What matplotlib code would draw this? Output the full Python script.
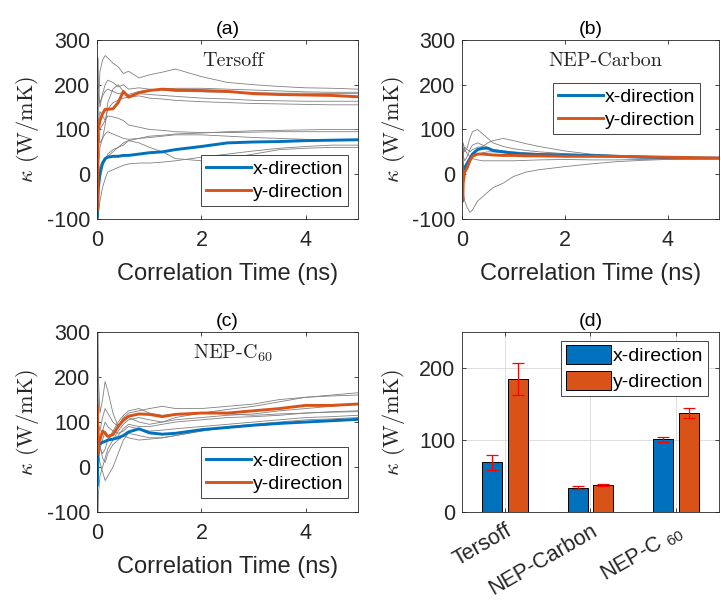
import numpy as np
import matplotlib
matplotlib.use("Agg")
import matplotlib.pyplot as plt

plt.rcParams['font.family'] = ['Liberation Sans', 'DejaVu Sans']
plt.rcParams['mathtext.fontset'] = 'cm'
plt.rcParams['mathtext.rm'] = 'Liberation Sans'

# correlation time grid (ns) shared by all running-average curves
t = [0, 0.01, 0.02, 0.05, 0.1, 0.15, 0.2, 0.3, 0.4, 0.5, 0.6, 0.8, 1.0,
     1.25, 1.5, 2.0, 2.5, 3.0, 3.5, 4.0, 4.5, 5.0]

# (a) Tersoff
tersoff_x = [-95, -60, -30, 0, 25, 35, 38, 40, 40, 42, 42, 45, 48, 50, 55,
             62, 70, 72, 73, 75, 76, 77]
tersoff_y = [-80, 95, 100, 120, 135, 145, 145, 146, 160, 185, 172, 182, 187,
             190, 188, 187, 185, 180, 178, 177, 176, 173]
tersoff_runs = [
    [0, 100, 150, 230, 255, 265, 260, 248, 240, 225, 230, 215, 222, 228, 235, 218, 205, 200, 196, 193, 192, 190],
    [0, 260, 200, 150, 180, 200, 210, 205, 195, 200, 190, 193, 190, 188, 185, 184, 183, 182, 181, 181, 180, 180],
    [0, 100, 90, 70, 80, 110, 160, 190, 200, 185, 175, 180, 178, 176, 174, 170, 168, 165, 164, 163, 163, 163],
    [0, 80, 120, 140, 130, 120, 145, 160, 165, 170, 172, 175, 170, 168, 165, 162, 160, 158, 157, 156, 155, 155],
    [0, 200, 170, 160, 175, 185, 190, 185, 180, 182, 178, 185, 188, 190, 192, 192, 190, 188, 186, 184, 183, 183],
    [0, -50, 50, 100, 110, 120, 130, 128, 125, 120, 110, 105, 100, 98, 95, 93, 93, 94, 95, 95, 95, 95],
    [0, -80, -20, 10, 20, 30, 45, 55, 60, 65, 75, 80, 85, 87, 90, 92, 95, 97, 98, 99, 100, 100],
    [0, -100, -90, -60, -30, -10, 5, 10, 15, 20, 23, 25, 25, 27, 30, 38, 45, 52, 58, 62, 65, 65],
    [0, -60, 0, 20, 25, 30, 40, 50, 60, 70, 75, 70, 60, 50, 35, 30, 35, 45, 55, 58, 60, 60],
    [0, -30, 10, 60, 80, 90, 95, 90, 85, 80, 78, 80, 82, 85, 88, 88, 85, 82, 80, 78, 77, 77],
]

# (b) NEP-Carbon
carbon_x = [20, -10, 5, 15, 25, 35, 45, 55, 58, 58, 53, 50, 47, 45, 44, 43,
            42, 40, 38, 37, 36, 36]
carbon_y = [50, -60, -20, 5, 15, 30, 40, 45, 45, 44, 43, 42, 42, 41, 41, 40,
            40, 40, 39, 38, 37, 36]
carbon_runs = [
    [0, -20, -40, -60, -75, -85, -80, -60, -50, -40, -30, -20, -5, 5, 10, 17, 23, 28, 31, 33, 34, 35],
    [0, 40, 60, 50, 60, 80, 95, 100, 90, 80, 70, 62, 57, 53, 50, 46, 43, 41, 40, 39, 38, 37],
    [0, 30, 50, 60, 55, 50, 55, 60, 62, 70, 75, 80, 75, 68, 62, 52, 45, 42, 40, 39, 38, 37],
    [0, 50, 40, 30, 40, 55, 65, 70, 65, 60, 55, 52, 50, 48, 46, 44, 42, 40, 38, 37, 36, 36],
    [0, 60, 70, 55, 45, 40, 35, 32, 30, 30, 30, 30, 30, 31, 32, 33, 32, 32, 33, 34, 35, 35],
    [0, 30, 20, 10, 20, 30, 40, 45, 48, 50, 50, 48, 46, 45, 44, 42, 40, 39, 38, 37, 36, 36],
]

# (c) NEP-C60
c60_x = [-40, 20, 50, 52, 55, 57, 60, 62, 65, 70, 78, 85, 76, 73, 75, 83,
         88, 93, 97, 100, 103, 106]
c60_y = [135, 30, 50, 60, 80, 75, 68, 72, 90, 105, 113, 118, 117, 112, 117,
         120, 120, 125, 130, 137, 137, 140]
c60_runs = [
    [0, 300, 200, 120, 150, 190, 170, 120, 90, 100, 110, 100, 95, 100, 110, 120, 128, 135, 145, 155, 160, 165],
    [0, -100, -60, -20, 0, 20, 40, 60, 80, 95, 105, 110, 105, 100, 105, 110, 115, 118, 125, 130, 135, 140],
    [0, 150, 100, 80, 110, 130, 120, 100, 90, 110, 120, 125, 130, 135, 130, 130, 135, 140, 150, 155, 158, 160],
    [0, 50, 30, 10, -10, -30, -20, 0, 30, 60, 75, 70, 65, 65, 70, 80, 90, 95, 100, 105, 107, 110],
    [0, 100, 70, 60, 80, 100, 90, 80, 75, 80, 90, 85, 80, 82, 85, 90, 95, 100, 105, 110, 112, 115],
    [0, 0, 20, 40, 60, 80, 70, 60, 70, 85, 95, 90, 90, 95, 100, 105, 110, 112, 115, 120, 123, 125],
    [0, 80, 60, 40, 30, 40, 60, 80, 100, 115, 125, 130, 120, 115, 118, 120, 118, 115, 118, 120, 122, 123],
    [0, 200, 100, 50, 20, 10, 30, 50, 60, 70, 65, 60, 62, 65, 70, 80, 88, 92, 96, 100, 102, 105],
]

# (d) converged values with error bars
potentials = ['Tersoff', 'NEP-Carbon', 'NEP-C $_{60}$']
kappa_x = [69, 34, 101]
kappa_y = [185, 37, 138]
err_x = [10.5, 1.5, 3.5]
err_y = [22, 1.5, 7]

blue = (0, 0.447, 0.741)
orange = (0.85, 0.325, 0.098)
dark = (0.15, 0.15, 0.15)
ylab = r'$\kappa$ (W/mK)'

fig = plt.figure(figsize=(7.21, 6.01), dpi=100)
ax_a = fig.add_axes([0.135, 0.6356, 0.361, 0.298])
ax_b = fig.add_axes([0.641, 0.6356, 0.356, 0.298])
ax_c = fig.add_axes([0.135, 0.148, 0.361, 0.2995])
ax_d = fig.add_axes([0.641, 0.148, 0.356, 0.2995])


def style(ax):
    ax.tick_params(direction='in', length=3, width=0.6, top=True, right=True,
                   labelsize=15.5, colors=dark)
    ax.tick_params(axis='x', pad=8)
    ax.tick_params(axis='y', pad=5)
    for s in ax.spines.values():
        s.set_linewidth(0.6)
        s.set_color(dark)


def leg(ax, hl=2.3, **kw):
    l = ax.legend(fontsize=14, fancybox=False, framealpha=1,
                  edgecolor=dark, handlelength=hl, handletextpad=0.1,
                  borderpad=0.25, labelspacing=0.3, borderaxespad=0.3, **kw)
    l.get_frame().set_linewidth(0.6)
    return l


panels = [(ax_a, tersoff_runs, tersoff_x, tersoff_y, '(a)', 'Tersoff', 0.52),
          (ax_b, carbon_runs, carbon_x, carbon_y, '(b)', 'NEP-Carbon', 0.556),
          (ax_c, c60_runs, c60_x, c60_y, '(c)', 'NEP-C$_{60}$', 0.52)]

for ax, runs, kx, ky, lab, name, tx in panels:
    for r in runs:
        ax.plot(t, r, color=(0.5, 0.5, 0.5), lw=0.6)
    ax.plot(t, kx, color=blue, lw=2.1, label='x-direction')
    ax.plot(t, ky, color=orange, lw=2.1, label='y-direction')
    ax.set_xlim(0, 5)
    ax.set_ylim(-100, 300)
    ax.set_xticks([0, 2, 4])
    ax.set_yticks([-100, 0, 100, 200, 300])
    ax.set_yticklabels(['-100', '0', '100', '200', '300'])
    style(ax)
    ax.set_title(lab, fontsize=14, color='black', pad=4)
    ax.set_xlabel('Correlation Time (ns)', fontsize=17, color=dark)
    ax.xaxis.set_label_coords(0.5, -0.245)
    ax.set_ylabel(ylab, fontsize=16, family='cmr10', math_fontfamily='cm', color=dark)
    ax.yaxis.set_label_coords(-0.215, 0.5)
    ax.text(tx, 0.88, name, transform=ax.transAxes, ha='center', va='center',
            fontsize=14.5, family='cmr10', math_fontfamily='cm', color=dark)

leg(ax_a, loc='lower right', bbox_to_anchor=(0.985, 0.04))
leg(ax_b, loc='upper right', bbox_to_anchor=(0.95, 0.79))
leg(ax_c, loc='lower right', bbox_to_anchor=(0.985, 0.045))

# bar chart of converged conductivities
pos = np.arange(1, len(potentials) + 1)
w = 0.23
ax_d.grid(True, color=(0.85, 0.85, 0.85), lw=0.6)
ax_d.set_axisbelow(True)
ax_d.bar(pos - 0.15, kappa_x, w, color=blue, edgecolor='black', lw=0.7, label='x-direction')
ax_d.bar(pos + 0.15, kappa_y, w, color=orange, edgecolor='black', lw=0.7, label='y-direction')
ax_d.errorbar(pos - 0.15, kappa_x, yerr=err_x, fmt='none', ecolor='red', elinewidth=0.9, capsize=4.5, capthick=0.9)
ax_d.errorbar(pos + 0.15, kappa_y, yerr=err_y, fmt='none', ecolor='red', elinewidth=0.9, capsize=4.5, capthick=0.9)
ax_d.set_xlim(0.5, 3.5)
ax_d.set_ylim(0, 250)
ax_d.set_yticks([0, 100, 200])
ax_d.set_xticks(pos)
ax_d.set_xticklabels(potentials, rotation=30, ha='right', rotation_mode='anchor',
                     math_fontfamily='custom')
style(ax_d)
ax_d.tick_params(axis='x', pad=6)
ax_d.set_title('(d)', fontsize=14, color='black', pad=4)
ax_d.set_ylabel(ylab, fontsize=16, family='cmr10', math_fontfamily='cm', color=dark)
ax_d.yaxis.set_label_coords(-0.215, 0.5)
leg(ax_d, hl=2.3, loc='upper right', handleheight=1.1, bbox_to_anchor=(0.98, 0.985))

fig.savefig('out.png', dpi=100)
